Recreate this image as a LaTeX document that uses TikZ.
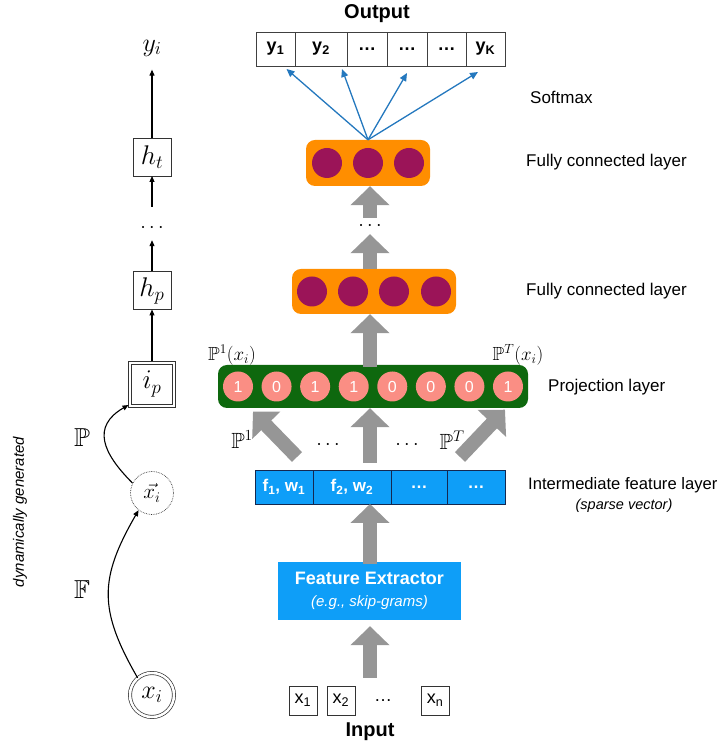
\documentclass[tikz,border=0pt]{standalone}
\usepackage{fix-cm}
\usepackage{amssymb}
\usepackage{fontspec}
\setmainfont{Liberation Sans}
\usepackage{tikz}
\usetikzlibrary{arrows.meta}
\usetikzlibrary{positioning}
\usetikzlibrary{calc}

\definecolor{fcorange}{RGB}{255,142,0}
\definecolor{fcpurple}{RGB}{155,20,88}
\definecolor{projgreen}{RGB}{14,104,14}
\definecolor{bitpink}{RGB}{250,142,132}
\definecolor{featblue}{RGB}{14,158,248}
\definecolor{featedge}{RGB}{20,40,80}
\definecolor{arrowgray}{RGB}{150,150,150}
\definecolor{softblue}{RGB}{36,120,190}

\tikzset{
    sidelabel/.style  = {anchor = west, inner sep = 0, font = \fontsize{17}{20}\selectfont},
    outcell/.style    = {draw = black!75, line width = 0.8, fill = white, minimum height = 34, inner sep = 0, outer sep = 0,
                         font = \bfseries\fontsize{18}{20}\selectfont},
    featcell/.style   = {draw = featedge, line width = 0.8, fill = featblue, minimum height = 34, inner sep = 0, outer sep = 0,
                         text = white, font = \bfseries\fontsize{17}{20}\selectfont},
    inbox/.style      = {draw = black!80, line width = 0.8, minimum width = 28, minimum height = 29, inner sep = 0, outer sep = 0,
                         font = \fontsize{18}{20}\selectfont},
    layer/.style      = {rounded corners = 9, inner sep = 0},
    neuron/.style     = {circle, fill = fcpurple, minimum size = 30, inner sep = 0},
    bit/.style        = {circle, fill = bitpink, minimum size = 30, inner sep = 0, text = white,
                         font = \fontsize{16}{18}\selectfont},
    bigarrow/.style   = {draw = arrowgray, line width = 14, -{Triangle[width = 38pt, length = 19pt]}},
    softarrow/.style  = {draw = softblue, line width = 1.3, -{Triangle[width = 7pt, length = 8pt]}},
    chainarrow/.style = {draw = black, line width = 1.1, -{Triangle[width = 5pt, length = 6pt]}},
    chainbox/.style   = {draw = black!80, line width = 0.8, minimum size = 38, inner sep = 1, outer sep = 0,
                         font = \fontsize{27}{30}\selectfont},
    bigmath/.style    = {font = \fontsize{26}{30}\selectfont}
}

\begin{document}
\begin{tikzpicture}[x = 1pt, y = 1pt]
    \useasboundingbox (0,0) rectangle (721,747);

    % Draw the output vector:
    \node [font = \bfseries\fontsize{20}{24}\selectfont] (output) at (377,733) {Output};
    \node [outcell, minimum width = 39] (out1) at (275.5,698) {y\textsubscript{1}};
    \node [outcell, minimum width = 52, right = 0 of out1] (out2) {y\textsubscript{2}};
    \node [outcell, minimum width = 40, right = 0 of out2] (out3) {\ldots};
    \node [outcell, minimum width = 40, right = 0 of out3] (out4) {\ldots};
    \node [outcell, minimum width = 39, right = 0 of out4] (out5) {\ldots};
    \node [outcell, minimum width = 39, right = 0 of out5] (out6) {y\textsubscript{K}};

    % Draw the fully connected layers:
    \node [layer, fill = fcorange, minimum width = 124, minimum height = 46] (fcTop) at (368,584) {};
    \foreach \x [count = \i] in {327, 368, 409}
        \node [neuron] (top\i) at (\x,584) {};
    \node [layer, fill = fcorange, minimum width = 164, minimum height = 45] (fcMid) at (374,455.5) {};
    \foreach \x [count = \i] in {312, 353, 394, 436}
        \node [neuron] (mid\i) at (\x,455.5) {};

    % Softmax connections:
    \foreach \j/\dx/\dy in {1/11/-3, 2/21/-3, 4/0/-7, 6/-7.5/-6}
        \draw [softarrow] (fcTop.north) -- ([xshift = \dx, yshift = \dy]out\j.south);

    % Draw the projection layer:
    \node [layer, fill = projgreen, minimum width = 310, minimum height = 43] (proj) at (373,360.5) {};
    \foreach \b [count = \i] in {1, 0, 1, 1, 0, 0, 0, 1}
        \node [bit] (bit\i) at ({238 + 38.57*(\i-1)},360.5) {\b};
    \node [font = \fontsize{19}{22}\selectfont] (pfirst) at (232,392) {$\mathbb{P}^1(x_i)$};
    \node [font = \fontsize{19}{22}\selectfont] (plast) at (518,392) {$\mathbb{P}^T(x_i)$};

    % Draw the intermediate feature layer:
    \node [featcell, minimum width = 58] (feat1) at (284,260) {f\textsubscript{1}, w\textsubscript{1}};
    \node [featcell, minimum width = 78, right = 0 of feat1] (feat2) {f\textsubscript{2}, w\textsubscript{2}};
    \node [featcell, minimum width = 56, right = 0 of feat2] (feat3) {\ldots};
    \node [featcell, minimum width = 58, right = 0 of feat3] (feat4) {\ldots};

    % Draw the feature extractor and the input:
    \node [fill = featblue, minimum width = 183, minimum height = 58, inner sep = 0, text = white,
           align = center, font = \fontsize{18}{24}\selectfont] (fe) at (369.5,156)
        {\textbf{Feature Extractor}\\[-2pt]{\itshape\fontsize{15}{18}\selectfont(e.g., skip-grams)}};
    \node [inbox] (in1) at (303,46.5) {x\textsubscript{1}};
    \node [inbox, right = 10 of in1] (in2) {x\textsubscript{2}};
    \node [font = \fontsize{18}{20}\selectfont] (inDots) at (383,46) {\ldots};
    \node [inbox] (inN) at (435,46.5) {x\textsubscript{n}};
    \node [font = \bfseries\fontsize{20}{24}\selectfont] (input) at (370,15) {Input};

    % Gray arrows between the layers:
    \node [inner sep = 0, minimum height = 16, font = \fontsize{20}{22}\selectfont] (fcDots) at (370,521) {$\cdots$};
    \draw [bigarrow] (fcMid.north -| fcDots) -- (fcDots.south);
    \draw [bigarrow] (fcDots.north) -- (fcTop.south -| fcDots);
    \draw [bigarrow] ($(proj.north -| fcDots) + (0,-2)$) -- (fcMid.south -| fcDots);
    \draw [bigarrow] ([xshift = 13, yshift = 13]feat1.north) -- ([xshift = 15, yshift = -10]bit1.south);
    \draw [bigarrow] ($(feat2.north -| fcDots) + (0,7)$) -- (proj.south -| fcDots);
    \draw [bigarrow] ([xshift = -16, yshift = 13]feat4.north) -- ([xshift = -3, yshift = -8]bit8.south);
    \draw [bigarrow] ($(fe.north -| fcDots) + (0,-2)$) -- (feat2.south -| fcDots);
    \draw [bigarrow] ($(in1.north -| fcDots) + (0,8)$) -- ($(fe.south -| fcDots) + (0,-6)$);
    \node [font = \fontsize{22}{24}\selectfont] (pone) at (242,307) {$\mathbb{P}^1$};
    \node [font = \fontsize{22}{24}\selectfont] (pT) at (452,307) {$\mathbb{P}^T$};
    \node [font = \fontsize{20}{22}\selectfont] (projDotsL) at (328,302) {$\cdots$};
    \node [font = \fontsize{20}{22}\selectfont] (projDotsR) at (407,302) {$\cdots$};

    % Labels on the right:
    \node [sidelabel] (softmax) at (530,650) {Softmax};
    \node [sidelabel] (fcTopLbl) at (526,585) {Fully connected layer};
    \node [sidelabel] (fcMidLbl) at (526,456) {Fully connected layer};
    \node [sidelabel] (projLbl) at (548,360) {Projection layer};
    \node [sidelabel, font = \fontsize{16.6}{20}\selectfont] (featLbl) at (528,262) {Intermediate feature layer};
    \node [font = \itshape\fontsize{14.5}{17}\selectfont] (sparse) at (624,241) {(sparse vector)};

    % Draw the dynamically generated chain:
    \node [bigmath] (yi) at (152,699) {$y_i$};
    \node [chainbox] (ht) at (152,590) {$h_t$};
    \node [inner sep = 0, minimum height = 24, font = \fontsize{20}{22}\selectfont] (hDots) at (152,519) {$\cdots$};
    \node [chainbox] (hp) at (152,456.5) {$h_p$};
    \node [chainbox, minimum width = 47, minimum height = 46] (ip) at (152,363) {};
    \node [chainbox, minimum width = 41, minimum height = 40] (ipIn) at (ip) {$i_p$};
    \node [circle, draw = black!80, line width = 0.7, densely dotted, minimum size = 43, inner sep = 0,
           font = \fontsize{21}{24}\selectfont] (xvec) at (152,254) {$\vec{x_i}$};
    \node [circle, draw = black!80, line width = 0.7, double, double distance = 2.5, minimum size = 44, inner sep = 0, bigmath] (xi) at (152,52) {$x_i$};

    \draw [chainarrow] (ht.north) -- ([yshift = -10]yi.south);
    \draw [chainarrow] ([yshift = 9]hDots.north) -- (ht.south);
    \draw [chainarrow] (hp.north) -- (hDots.south);
    \draw [chainarrow] (ip.north) -- (hp.south);
    \draw [chainarrow] (xi.130) to [out = 120, in = 240, looseness = 1.2] (xvec.232);
    \draw [chainarrow] (xvec.153) to [out = 135, in = 210, looseness = 1.4] ([yshift = 2]ip.south west);
    \node [bigmath] (fLbl) at (82,157) {$\mathbb{F}$};
    \node [bigmath] (pLbl) at (82,309) {$\mathbb{P}$};
    \node [rotate = 90, font = \itshape\fontsize{15}{18}\selectfont] (dyn) at (20,235) {dynamically generated};
\end{tikzpicture}
\end{document}
